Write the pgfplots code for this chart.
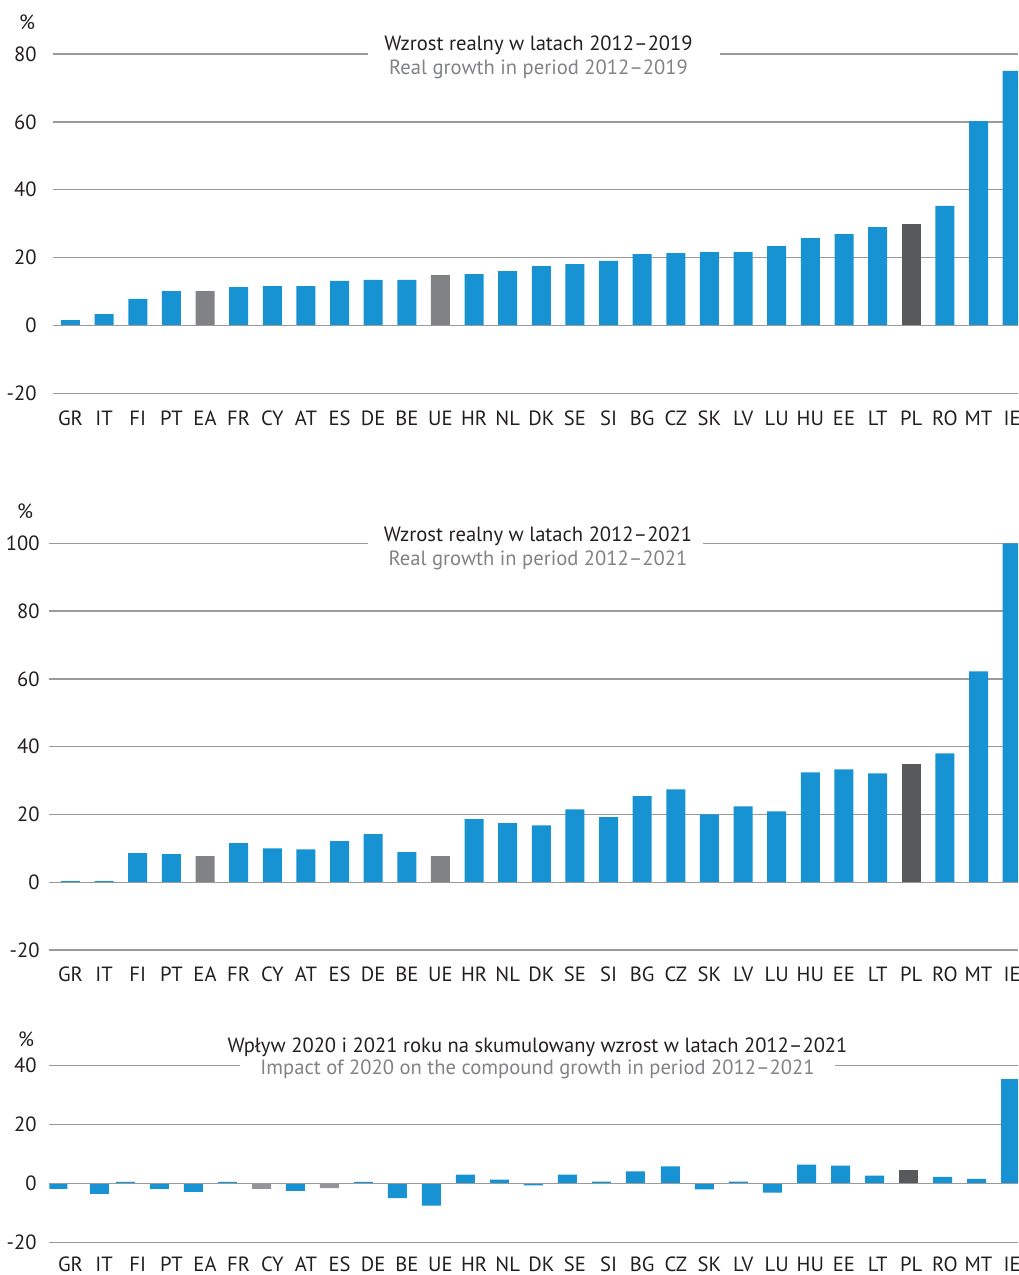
\documentclass[border=0pt]{standalone}
\usepackage{fontspec}
\setmainfont{PT Sans}
\usepackage{pgfplots}
\pgfplotsset{compat=1.18}
\usepackage{pgfplotstable}

\definecolor{barblue}{HTML}{1792D2}
\definecolor{bargray}{HTML}{808285}
\definecolor{bargrayl}{HTML}{939598}
\definecolor{bardark}{HTML}{58595B}
\definecolor{gridgray}{HTML}{9A9A9A}
\definecolor{txt}{HTML}{231F20}
\definecolor{subtxt}{HTML}{808285}

% columns: country bars, aggregates (EA/UE), Poland
\pgfplotstableread{
label x ctry agg pl
GR 0 1.6 nan nan
IT 1 3.3 nan nan
FI 2 7.8 nan nan
PT 3 10.1 nan nan
EA 4 nan 10.1 nan
FR 5 11.3 nan nan
CY 6 11.6 nan nan
AT 7 11.6 nan nan
ES 8 13.1 nan nan
DE 9 13.4 nan nan
BE 10 13.4 nan nan
UE 11 nan 14.8 nan
HR 12 15.1 nan nan
NL 13 16.0 nan nan
DK 14 17.5 nan nan
SE 15 18.1 nan nan
SI 16 19.0 nan nan
BG 17 21.0 nan nan
CZ 18 21.3 nan nan
SK 19 21.6 nan nan
LV 20 21.6 nan nan
LU 21 23.4 nan nan
HU 22 25.7 nan nan
EE 23 26.9 nan nan
LT 24 29.0 nan nan
PL 25 nan nan 29.9
RO 26 35.2 nan nan
MT 27 60.2 nan nan
IE 28 75.0 nan nan
}\growthA

\pgfplotstableread{
label x ctry agg pl
GR 0 0.3 nan nan
IT 1 0.3 nan nan
FI 2 8.6 nan nan
PT 3 8.3 nan nan
EA 4 nan 7.7 nan
FR 5 11.5 nan nan
CY 6 10.0 nan nan
AT 7 9.7 nan nan
ES 8 12.1 nan nan
DE 9 14.2 nan nan
BE 10 8.9 nan nan
UE 11 nan 7.7 nan
HR 12 18.6 nan nan
NL 13 17.4 nan nan
DK 14 16.8 nan nan
SE 15 21.5 nan nan
SI 16 19.2 nan nan
BG 17 25.4 nan nan
CZ 18 27.4 nan nan
SK 19 20.0 nan nan
LV 20 22.4 nan nan
LU 21 20.9 nan nan
HU 22 32.4 nan nan
EE 23 33.3 nan nan
LT 24 32.1 nan nan
PL 25 nan nan 34.8
RO 26 38.0 nan nan
MT 27 62.2 nan nan
IE 28 100.0 nan nan
}\growthB

\pgfplotstableread{
label x ctry agg pl
GR -0.378 -1.8 nan nan
IT 0.862 -3.5 nan nan
FI 1.635 0.6 nan nan
PT 2.646 -1.8 nan nan
EA 3.657 -2.8 nan nan
FR 4.668 0.6 nan nan
CY 5.680 nan -1.8 nan
AT 6.690 -2.5 nan nan
ES 7.701 nan -1.5 nan
DE 8.712 0.6 nan nan
BE 9.723 -4.9 nan nan
UE 10.734 -7.5 nan nan
HR 11.745 3.05 nan nan
NL 12.756 1.35 nan nan
DK 13.767 -0.6 nan nan
SE 14.778 3.05 nan nan
SI 15.789 0.7 nan nan
BG 16.800 4.1 nan nan
CZ 17.841 5.8 nan nan
SK 18.852 -2.0 nan nan
LV 19.863 0.7 nan nan
LU 20.874 -3.05 nan nan
HU 21.885 6.4 nan nan
EE 22.896 6.1 nan nan
LT 23.907 2.7 nan nan
PL 24.918 nan nan 4.6
RO 25.929 2.3 nan nan
MT 26.940 1.6 nan nan
IE 27.951 35.3 nan nan
}\impact

\tikzset{lbl/.style={font=\fontsize{10.3pt}{12pt}\selectfont, text=txt}}

\pgfplotsset{
  panel/.style={
    scale only axis, anchor=south west,
    ybar, bar width=9.5pt,
    axis line style={draw=none}, major tick length=0pt,
    ymajorgrids, grid style={gridgray, line width=0.7pt},
    xtick={0,...,28},
    xticklabels={GR,IT,FI,PT,EA,FR,CY,AT,ES,DE,BE,UE,HR,NL,DK,SE,SI,BG,CZ,SK,LV,LU,HU,EE,LT,PL,RO,MT,IE},
    xticklabel style={lbl, anchor=base, inner sep=0pt, yshift=-16pt},
    yticklabel style={lbl, anchor=east, inner sep=0pt},
    /pgf/number format/assume math mode=true,
    xmax=28.174,
    unbounded coords=discard,
  },
  bars/.style={draw=none, bar shift=0pt, fill=#1},
}

\begin{document}
\begin{tikzpicture}
\path[use as bounding box] (0,0) rectangle (509pt,637.5pt);

% Panel 1: real growth 2012-2019
\begin{axis}[panel, at={(26.35pt,440.85pt)}, width=482.65pt, height=169.65pt,
  xmin=-0.529, ymin=-20, ymax=80, ytick={-20,0,...,80},
  yticklabel style={xshift=-7.85pt}]
  \addplot[bars=barblue] table[x=x, y=ctry] {\growthA};
  \addplot[bars=bargray] table[x=x, y=agg] {\growthA};
  \addplot[bars=bardark] table[x=x, y=pl] {\growthA};
  \draw[gridgray, line width=0.8pt] (axis cs:-0.529,0) -- (axis cs:28.174,0);
\end{axis}

% Panel 2: real growth 2012-2021
\begin{axis}[panel, at={(24.65pt,162.5pt)}, width=484.35pt, height=203.35pt,
  xmin=-0.630, ymin=-20, ymax=100, ytick={-20,0,...,100},
  yticklabel style={xshift=-4.65pt}]
  \addplot[bars=barblue] table[x=x, y=ctry] {\growthB};
  \addplot[bars=bargray] table[x=x, y=agg] {\growthB};
  \addplot[bars=bardark] table[x=x, y=pl] {\growthB};
  \draw[gridgray, line width=0.65pt] (axis cs:-0.630,0) -- (axis cs:28.174,0);
\end{axis}

% Panel 3: impact of 2020 and 2021
\begin{axis}[panel, at={(24.65pt,16.15pt)}, width=484.35pt, height=88.7pt,
  xmin=-0.630, ymin=-20, ymax=40, ytick={-20,0,20,40},
  yticklabel style={xshift=-6.15pt},
  xticklabel style={yshift=1.6pt}]
  \addplot[bars=barblue] table[x=x, y=ctry] {\impact};
  \addplot[bars=bargrayl] table[x=x, y=agg] {\impact};
  \addplot[bars=bardark] table[x=x, y=pl] {\impact};
  \draw[gridgray, line width=0.9pt] (axis cs:-0.630,0) -- (axis cs:28.174,0);
\end{axis}

% breaks in the top grid lines behind the titles
\fill[white] (184pt,608pt) rectangle (360pt,613pt);
\fill[white] (184pt,363.3pt) rectangle (351.5pt,368.4pt);
\fill[white] (120pt,102.3pt) rectangle (417.5pt,107.4pt);

% unit labels
\node[lbl] at (13.5pt,626.5pt) {\%};
\node[lbl] at (12.5pt,381.65pt) {\%};
\node[lbl] at (13pt,118pt) {\%};

% titles
\node[lbl, anchor=base] at (269.25pt,612pt) {Wzrost realny w latach 2012–2019};
\node[lbl, anchor=base, text=subtxt] at (269.25pt,600.15pt) {Real growth in period 2012–2019};
\node[lbl, anchor=base] at (269pt,366.65pt) {Wzrost realny w latach 2012–2021};
\node[lbl, anchor=base, text=subtxt] at (269pt,354.5pt) {Real growth in period 2012–2021};
\node[lbl, anchor=base] at (268.75pt,111.35pt) {Wpływ 2020 i 2021 roku na skumulowany wzrost w latach 2012–2021};
\node[lbl, anchor=base, text=subtxt] at (268.75pt,100pt) {Impact of 2020 on the compound growth in period 2012–2021};
\end{tikzpicture}
\end{document}
